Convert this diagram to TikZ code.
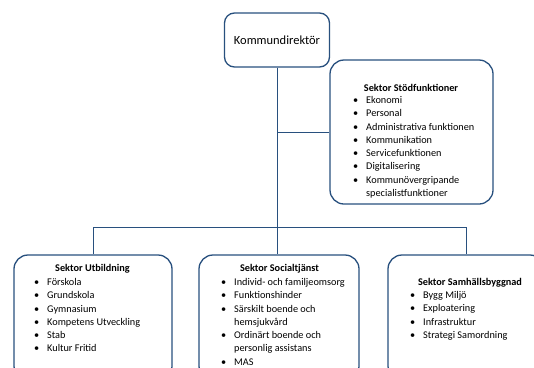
\documentclass[tikz,border=0pt]{standalone}
\usepackage{fontspec}
\setmainfont{Carlito}
\definecolor{orgblue}{HTML}{28507E}
\tikzset{
  orgbox/.style={draw=orgblue, line width=1.3bp, rounded corners=14bp, fill=white, inner sep=0pt},
  topbox/.style={draw=orgblue, line width=1.3bp, rounded corners=10bp, fill=white, inner sep=0pt},
  conn/.style={draw=orgblue, line width=1bp},
  titletxt/.style={anchor=base, inner sep=0pt, font=\fontsize{10.3}{13.3}\bfseries\selectfont},
  listtxt/.style={anchor=base west, inner sep=0pt, font=\fontsize{10.3}{13.3}\selectfont, align=left},
}
\newcommand{\bl}{\makebox[13bp][l]{•}}
\newcommand{\nb}{\makebox[13bp][l]{}}
\begin{document}
\begin{tikzpicture}[x=1bp,y=-1bp]
\clip (0,0) rectangle (534,367);
\fill[white] (0,0) rectangle (534,367);
% boxes
\node[topbox, minimum width=105bp, minimum height=54bp] (kd) at (277,40) {};
\node[orgbox, minimum width=163bp, minimum height=144bp] (stod) at (411.5,132) {};
\node[orgbox, minimum width=158bp, minimum height=125bp] (utb) at (93,317.5) {};
\node[orgbox, minimum width=160bp, minimum height=125bp] (soc) at (279,317.5) {};
\node[orgbox, minimum width=156bp, minimum height=125bp] (sam) at (466,317.5) {};
% connectors
\coordinate (j) at (277,227);
\draw[conn] (kd.south) -- (kd.south |- soc.north);
\draw[conn] (kd.south |- stod.west) -- (stod.west);
\draw[conn] (utb.north) -- (utb.north |- j) -- (sam.north |- j) -- (sam.north);
% texts
\node[inner sep=0pt, font=\fontsize{12.5}{15}\selectfont] (kdt) at (kd.center) {Kommundirektör};

\node[titletxt] (stodt) at (411,91.5) {Sektor Stödfunktioner};
\node[listtxt] (stodl) at (353,103.5) {%
\begin{tabular}[t]{@{}l@{}}
\bl Ekonomi\\
\bl Personal\\
\bl Administrativa funktionen\\
\bl Kommunikation\\
\bl Servicefunktionen\\
\bl Digitalisering\\
\bl Kommunövergripande\\
\nb specialistfunktioner
\end{tabular}};

\node[titletxt] (utbt) at (92.5,271.5) {Sektor Utbildning};
\node[listtxt] (utbl) at (34,285.5) {%
\begin{tabular}[t]{@{}l@{}}
\bl Förskola\\
\bl Grundskola\\
\bl Gymnasium\\
\bl Kompetens Utveckling\\
\bl Stab\\
\bl Kultur Fritid
\end{tabular}};

\node[titletxt] (soct) at (279.5,271.5) {Sektor Socialtjänst};
\node[listtxt] (socl) at (221,285.5) {%
\begin{tabular}[t]{@{}l@{}}
\bl Individ- och familjeomsorg\\
\bl Funktionshinder\\
\bl Särskilt boende och\\
\nb hemsjukvård\\
\bl Ordinärt boende och\\
\nb personlig assistans\\
\bl MAS
\end{tabular}};

\node[titletxt] (samt) at (470,285.5) {Sektor Samhällsbyggnad};
\node[listtxt] (saml) at (410,298.5) {%
\begin{tabular}[t]{@{}l@{}}
\bl Bygg Miljö\\
\bl Exploatering\\
\bl Infrastruktur\\
\bl Strategi Samordning
\end{tabular}};
\end{tikzpicture}
\end{document}
